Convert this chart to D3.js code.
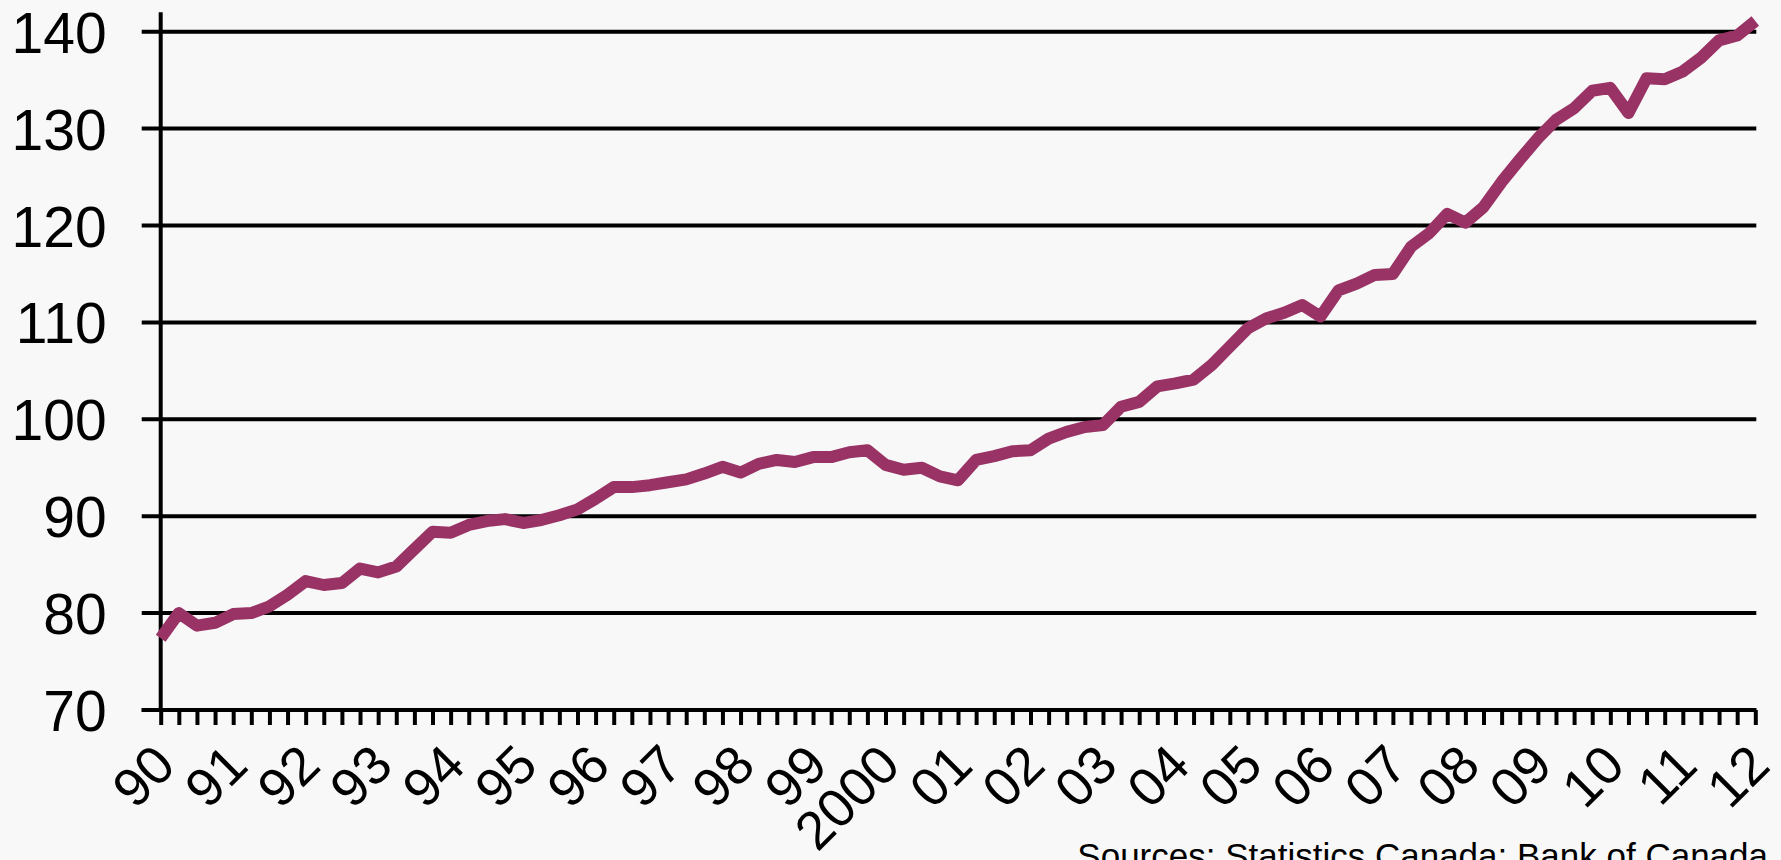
<!DOCTYPE html>
<html>
  <head>
    <meta charset="utf-8">
    <title>Index, 1990-2012</title>
    <script src="https://d3js.org/d3.v7.min.js"></script>
    <style>
      body { margin: 0; background: #f8f8f8; }
      svg { display: block; font-family: "Liberation Sans", Arial, sans-serif; }
      .grid line { stroke: #000; stroke-width: 4; }
      .axis path, .axis line { stroke: #000; stroke-width: 4; }
      .axis text { fill: #000; }
    </style>
  </head>
  <body>
    <svg id="chart" width="1781" height="860"></svg>
    <script>
      // quarterly values, 1990Q1 to 2012Q1
      var values = [
        77.4, 80.0, 78.7, 79.0, 79.9, 80.0, 80.7, 81.9, 83.3, 82.9, 83.1, 84.6,
        84.2, 84.8, 86.6, 88.4, 88.3, 89.1, 89.5, 89.7, 89.3, 89.6, 90.1, 90.7,
        91.8, 93.0, 93.0, 93.2, 93.5, 93.8, 94.4, 95.1, 94.5, 95.4, 95.8, 95.6,
        96.1, 96.1, 96.6, 96.8, 95.3, 94.8, 95.0, 94.1, 93.7, 95.8, 96.2, 96.7,
        96.8, 98.0, 98.7, 99.2, 99.4, 101.3, 101.8, 103.4, 103.7, 104.1, 105.6, 107.5,
        109.4, 110.4, 111.0, 111.8, 110.6, 113.3, 114.0, 114.9, 115.0, 117.8, 119.2, 121.2,
        120.3, 121.9, 124.5, 126.8, 129.0, 130.9, 132.1, 133.9, 134.2, 131.6, 135.2, 135.1,
        135.9, 137.3, 139.1, 139.6, 141.1
      ];
      var yearLabels = ["90", "91", "92", "93", "94", "95", "96", "97", "98", "99", "2000",
        "01", "02", "03", "04", "05", "06", "07", "08", "09", "10", "11", "12"];
      var yTicks = [70, 80, 90, 100, 110, 120, 130, 140];
      var source = "Sources: Statistics Canada; Bank of Canada";

      var svg = d3.select("#chart");
      var plotLeft = 160.7, plotRight = 1755.3, plotTop = 12.3, plotBottom = 710;

      var x = d3.scaleLinear()
        .domain([0, values.length - 1])
        .range([plotLeft, plotRight]);
      var y = d3.scaleLinear()
        .domain([70, 142])
        .range([plotBottom, plotTop]);

      // gridlines (they also make the y tick marks on the left)
      svg.append("g")
          .classed("grid", true)
        .selectAll("line")
          .data(yTicks)
        .enter().append("line")
          .attr("x1", plotLeft - 19)
          .attr("x2", plotRight + 1)
          .attr("y1", function(d) { return y(d); })
          .attr("y2", function(d) { return y(d); });

      // y axis
      var yAxis = d3.axisLeft(y)
        .tickValues(yTicks)
        .tickSize(0)
        .tickPadding(54);
      var yGroup = svg.append("g")
          .classed("axis", true)
          .attr("transform", "translate(" + plotLeft + ",0)")
          .call(yAxis);
      yGroup.select(".domain").attr("d", "M0," + plotTop + "V" + plotBottom);
      yGroup.selectAll("text")
          .attr("font-size", 57)
          .attr("dy", "0.36em");

      // x axis, a tick every quarter
      var xAxis = d3.axisBottom(x)
        .tickValues(d3.range(values.length))
        .tickSize(15)
        .tickSizeOuter(0)
        .tickFormat("");
      var xGroup = svg.append("g")
          .classed("axis", true)
          .attr("transform", "translate(0," + plotBottom + ")")
          .call(xAxis);
      xGroup.select(".domain").attr("d", "M" + (plotLeft - 19) + ",0H" + (plotRight + 1));

      // year labels
      svg.append("g")
        .selectAll("text")
          .data(yearLabels)
        .enter().append("text")
          .attr("text-anchor", "end")
          .attr("font-size", 54)
          .attr("transform", function(d, i) {
            return "translate(" + (x(i * 4) + 17) + "," + (plotBottom + 58) + ") rotate(-45)";
          })
          .text(function(d) { return d; });

      // line
      var line = d3.line()
        .x(function(d, i) { return x(i); })
        .y(function(d) { return y(d); });
      svg.append("path")
          .datum(values)
          .attr("fill", "none")
          .attr("stroke", "#993366")
          .attr("stroke-width", 12)
          .attr("stroke-linejoin", "round")
          .attr("d", line);

      // source note
      svg.append("text")
          .attr("x", 1768)
          .attr("y", 868)
          .attr("text-anchor", "end")
          .attr("font-size", 35)
          .text(source);
    </script>
  </body>
</html>
